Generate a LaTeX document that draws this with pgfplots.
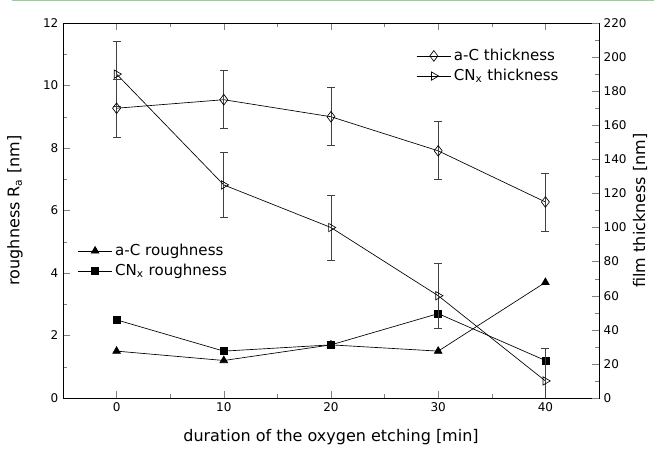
\documentclass[border=0pt]{standalone}
\usepackage{pgfplots}
\pgfplotsset{compat=1.18}
\usepackage{fontspec}
\setmainfont{DejaVu Sans}
\begin{document}
\begin{tikzpicture}
\path[use as bounding box] (-47.25pt,-38.25pt) rectangle ++(490.5pt,336.75pt);
\pgfplotsset{
  common/.style={
    at={(0,0)}, anchor=south west, scale only axis,
    width=402pt, height=281.25pt,
    xmin=-5, xmax=45,
    /pgf/number format/assume math mode=true,
    tick label style={font=\fontsize{9}{10}\selectfont},
    label style={font=\fontsize{12}{14}\selectfont},
    major tick length=5.5pt, minor tick length=3pt,
    tick align=inside,
    every axis plot/.append style={black, line width=0.5pt},
    legend style={draw=none, fill=none, font=\fontsize{11.3}{13}\selectfont, row sep=1pt, inner sep=2pt},
    legend cell align=left,
    legend image code/.code={\draw[mark repeat=2, mark phase=2] plot coordinates {(0cm,0cm) (0.45cm,0cm) (0.9cm,0cm)};},
  }
}
\begin{axis}[common,
  ymin=0, ymax=12,
  xtick={0,10,20,30,40}, minor x tick num=1,
  ytick={0,2,4,6,8,10,12}, minor y tick num=1,
  ytick pos=left,
  xlabel={duration of the oxygen etching [min]},
  ylabel={roughness R\textsubscript{a} [nm]},
  xlabel style={at={(axis description cs:0.5,-0.104)}, anchor=center},
  ylabel style={at={(axis description cs:-0.0896,0.5)}, anchor=center},
  legend style={at={(axis description cs:0.022,0.425)}, anchor=north west},
]
\addplot[mark=triangle*, mark size=3.3pt, mark options={solid, fill=black}] coordinates {
  (0,1.5) (10,1.2) (20,1.7) (30,1.5) (40,3.7)};
\addlegendentry{a-C roughness}
\addplot[mark=square*, mark size=2.6pt, mark options={solid, fill=black}] coordinates {
  (0,2.5) (10,1.5) (20,1.7) (30,2.7) (40,1.2)};
\addlegendentry{CN\textsubscript{x} roughness}
\end{axis}
\begin{axis}[common,
  ymin=0, ymax=220,
  axis x line=none,
  axis y line*=right,
  ytick={0,20,...,220}, minor y tick num=1,
  ylabel={film thickness [nm]},
  ylabel style={at={(axis description cs:1.0765,0.5)}, anchor=center},
  legend style={at={(axis description cs:0.935,0.945)}, anchor=north east},
]
\addplot[mark=diamond, mark size=4pt, mark options={solid, fill=white},
  error bars/.cd, y dir=both, y fixed=17,
  error bar style={black!75, line width=0.6pt},
  error mark options={rotate=90, mark size=3pt, black!75, line width=0.6pt}] coordinates {
  (0,170) (10,175) (20,165) (30,145) (40,115)};
\addlegendentry{a-C thickness}
\addplot[mark=triangle, mark size=3.6pt, mark options={solid, fill=white, rotate=-90},
  error bars/.cd, y dir=both, y fixed=19,
  error bar style={black!75, line width=0.6pt},
  error mark options={rotate=90, mark size=3pt, black!75, line width=0.6pt}] coordinates {
  (0,190) (10,125) (20,100) (30,60) (40,10)};
\addlegendentry{CN\textsubscript{x} thickness}
\end{axis}
\draw[color={rgb,255:red,150;green,210;blue,150}, line width=1.2pt] (-38pt,298.2pt) -- (443.25pt,298.2pt);
\end{tikzpicture}
\end{document}
